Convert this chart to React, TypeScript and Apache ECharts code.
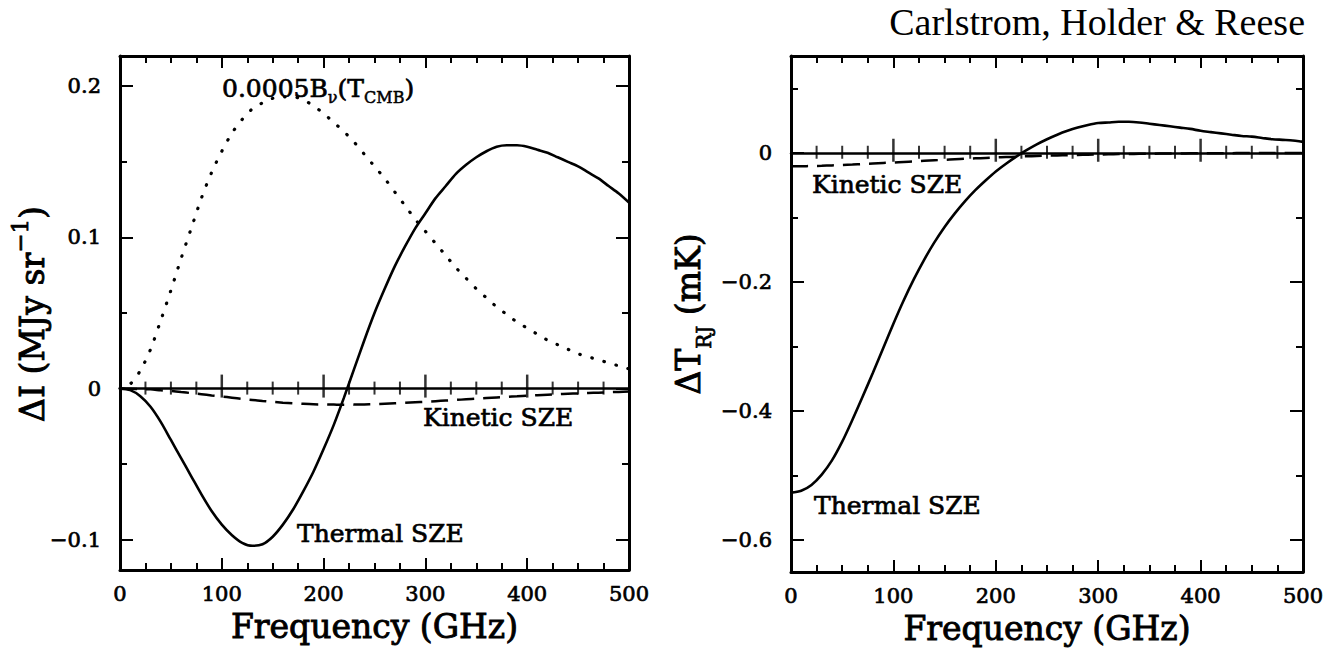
import React, { useEffect, useRef } from 'react';
import * as echarts from 'echarts';

// Frequency grid (GHz)
const freqGHz = [
  0, 10, 20, 30, 40, 50, 60, 70, 80, 90, 100, 110, 120, 130, 140, 150, 160, 170, 180, 190, 200,
  210, 220, 230, 240, 250, 260, 270, 280, 290, 300, 310, 320, 330, 340, 350, 360, 370, 380, 390, 400,
  410, 420, 430, 440, 450, 460, 470, 480, 490, 500,
];

// Left panel: ΔI (MJy sr^-1)
const thermalIntensity = [
  0, -0.001, -0.005, -0.012, -0.022, -0.034, -0.046, -0.058, -0.07, -0.081, -0.09, -0.097, -0.102, -0.104, -0.103, -0.098, -0.09, -0.08, -0.068, -0.055, -0.04,
  -0.024, -0.006, 0.013, 0.032, 0.05, 0.066, 0.081, 0.094, 0.106, 0.116, 0.126, 0.134, 0.142, 0.148, 0.153, 0.157, 0.16, 0.161, 0.161, 0.16,
  0.158, 0.156, 0.153, 0.15, 0.147, 0.143, 0.139, 0.134, 0.129, 0.123,
];
const kineticIntensity = [
  0, -0.0001, -0.0003, -0.0005, -0.0011, -0.0016, -0.0023, -0.003, -0.0037, -0.0045, -0.0052, -0.006, -0.0068, -0.0075, -0.0082, -0.0088, -0.0093, -0.0097, -0.0101, -0.0104, -0.0105,
  -0.0106, -0.0107, -0.0106, -0.0105, -0.0103, -0.01, -0.0097, -0.0094, -0.009, -0.0087, -0.0083, -0.0079, -0.0075, -0.0071, -0.0067, -0.0063, -0.0059, -0.0055, -0.0051, -0.0047,
  -0.0044, -0.004, -0.0037, -0.0034, -0.0032, -0.0029, -0.0027, -0.0024, -0.0022, -0.0019,
];
const planckScaled = [
  0, 0.003, 0.012, 0.026, 0.045, 0.065, 0.086, 0.106, 0.126, 0.143, 0.157, 0.169, 0.178, 0.185, 0.189, 0.192, 0.193, 0.193, 0.191, 0.187, 0.182,
  0.176, 0.17, 0.163, 0.155, 0.147, 0.139, 0.13, 0.121, 0.112, 0.104, 0.096, 0.088, 0.08, 0.073, 0.066, 0.06, 0.054, 0.049, 0.044, 0.04,
  0.036, 0.032, 0.029, 0.026, 0.023, 0.021, 0.019, 0.017, 0.015, 0.013,
];

// Right panel: ΔT_RJ (mK)
const thermalTemp = [
  -0.527, -0.524, -0.515, -0.499, -0.477, -0.448, -0.414, -0.378, -0.341, -0.303, -0.265, -0.229, -0.196, -0.166, -0.139, -0.115, -0.094, -0.075, -0.058, -0.043, -0.029,
  -0.017, -0.006, 0.004, 0.013, 0.021, 0.028, 0.034, 0.039, 0.043, 0.046, 0.047, 0.048, 0.048, 0.047, 0.045, 0.043, 0.041, 0.039, 0.037, 0.034,
  0.032, 0.03, 0.028, 0.026, 0.025, 0.023, 0.021, 0.02, 0.019, 0.017,
];
const kineticTemp = [
  -0.021, -0.0209, -0.0206, -0.0202, -0.0196, -0.019, -0.0183, -0.0175, -0.0167, -0.0159, -0.0151, -0.0142, -0.0134, -0.0125, -0.0117, -0.0109, -0.0101, -0.0094, -0.0087, -0.008, -0.0073,
  -0.0067, -0.0061, -0.0055, -0.005, -0.0045, -0.0041, -0.0037, -0.0033, -0.003, -0.0027, -0.0024, -0.0021, -0.0019, -0.0017, -0.0015, -0.0013, -0.0012, -0.0011, -0.0009, -0.0008,
  -0.0007, -0.0006, -0.0006, -0.0005, -0.0004, -0.0004, -0.0003, -0.0003, -0.0003, -0.0002,
];

// Tick marks drawn across the zero line
const zeroMajorTicks = [100, 200, 300, 400];
const zeroMinorTicks = [25, 50, 75, 125, 150, 175, 225, 250, 275, 325, 350, 375, 425, 450, 475];

const xTitle = 'Frequency (GHz)';
const leftYTitle = '{a|ΔI (MJy sr}{s|−1}{a|)}';
const rightYTitle = '{a|ΔT}{sub|RJ}{a| (mK)}';
const planckLabel = '{m|0.0005B}{s|ν}{m|(T}{s|CMB}{m|)}';
const authorLine = 'Carlstrom, Holder & Reese';

const SERIF = '"DejaVu Serif", serif';
const TIMES = '"Liberation Serif", "Times New Roman", serif';
const EMB = { textBorderColor: '#000', textBorderWidth: 0.7 };
const EMB_G = { stroke: '#000', lineWidth: 0.7 };

const fmt = (v: number) => {
  const r = parseFloat(v.toFixed(3));
  if (r === 0) return '0';
  return r < 0 ? '−' + String(Math.abs(r)) : String(r);
};

const pairs = (ys: number[]) => freqGHz.map((f, i) => [f, ys[i]]);
const onZero = (xs: number[]) => xs.map((f) => [f, 0]);

function makeAxes(gridIndex: number, yIndex: number, yMin: number, yMax: number, ySplit: number) {
  const black = { color: '#000' };
  const xBase = {
    gridIndex,
    type: 'value',
    min: 0,
    max: 500,
    splitNumber: 5,
    splitLine: { show: false },
  };
  const xAxes = [
    {
      ...xBase,
      position: 'bottom',
      axisLine: { onZero: false, lineStyle: { ...black, width: 3 } },
      axisTick: { inside: true, length: 12, lineStyle: { ...black, width: 2 } },
      minorTick: { show: true, splitNumber: 4, length: 7, lineStyle: { ...black, width: 2 } },
      axisLabel: { margin: 13, fontSize: 21, fontFamily: SERIF, color: '#000', ...EMB },
      name: xTitle,
      nameLocation: 'middle',
      nameGap: 35,
      nameTextStyle: { fontSize: 33, fontFamily: SERIF, color: '#000', ...EMB, textBorderWidth: 0.9 },
    },
    {
      ...xBase,
      position: 'top',
      axisLine: { onZero: false, lineStyle: { ...black, width: 3 } },
      axisTick: { inside: true, length: 12, lineStyle: { ...black, width: 2 } },
      minorTick: { show: true, splitNumber: 4, length: 7, lineStyle: { ...black, width: 2 } },
      axisLabel: { show: false },
    },
    {
      ...xBase,
      position: 'bottom',
      axisLine: { onZero: true, onZeroAxisIndex: yIndex, lineStyle: { ...black, width: 2.5 } },
      axisTick: { show: false },
      minorTick: { show: false },
      axisLabel: { show: false },
    },
  ];
  const yBase = {
    gridIndex,
    type: 'value',
    min: yMin,
    max: yMax,
    splitNumber: ySplit,
    splitLine: { show: false },
    axisLine: { onZero: false, lineStyle: { ...black, width: 3 } },
    axisTick: { inside: true, length: 13, lineStyle: { ...black, width: 2 } },
    minorTick: { show: true, splitNumber: 2, length: 7, lineStyle: { ...black, width: 2 } },
  };
  const yAxes = [
    {
      ...yBase,
      position: 'left',
      axisLabel: {
        margin: 19,
        fontSize: 21,
        fontFamily: SERIF,
        color: '#000',
        ...EMB,
        showMinLabel: false,
        showMaxLabel: false,
        formatter: (v: number) => fmt(v),
      },
    },
    { ...yBase, position: 'right', axisLabel: { show: false } },
  ];
  return { xAxes, yAxes };
}

const solid = { color: '#000', width: 2.6 };
const dashed = { color: '#000', width: 2.5, type: [17, 9] };
const dotted = { color: '#000', width: 3.2, type: [0.5, 12], cap: 'round' };

export default function App() {
  const ref = useRef<HTMLDivElement>(null);
  useEffect(() => {
    if (!ref.current) return;
    const chart = echarts.init(ref.current, undefined, { renderer: 'svg' });
    const L = makeAxes(0, 0, -0.12, 0.22, 4);
    const R = makeAxes(1, 2, -0.65, 0.15, 4);
    const lineSeries = (name: string, xi: number, yi: number, ys: number[], style: any) => ({
      name,
      type: 'line',
      xAxisIndex: xi,
      yAxisIndex: yi,
      data: pairs(ys),
      smooth: 0.3,
      showSymbol: false,
      symbol: 'none',
      lineStyle: style,
      z: 3,
    });
    const tickSeries = (xi: number, yi: number, xs: number[], size: number[], offset: number[]) => ({
      type: 'scatter',
      xAxisIndex: xi,
      yAxisIndex: yi,
      data: onZero(xs),
      symbol: 'rect',
      symbolSize: size,
      symbolOffset: offset,
      itemStyle: { color: '#000' },
      silent: true,
      z: 4,
    });
    const label = (text: string, x: number, y: number, size = 25) => ({
      type: 'text',
      x,
      y,
      style: { text, fontSize: size, fontFamily: SERIF, fill: '#000', ...EMB_G, align: 'left', verticalAlign: 'middle' },
      z: 10,
    });
    chart.setOption({
      animation: false,
      backgroundColor: '#fff',
      grid: [
        { left: 120, top: 56, width: 509, height: 514 },
        { left: 791, top: 56, width: 512, height: 516 },
      ],
      xAxis: [...L.xAxes, ...R.xAxes],
      yAxis: [...L.yAxes, ...R.yAxes],
      series: [
        lineSeries('Thermal SZE', 0, 0, thermalIntensity, solid),
        lineSeries('Kinetic SZE', 0, 0, kineticIntensity, dashed),
        lineSeries('0.0005Bν(TCMB)', 0, 0, planckScaled, dotted),
        tickSeries(0, 0, zeroMajorTicks, [2.5, 23], [0, -2.5]),
        tickSeries(0, 0, zeroMinorTicks, [2, 13], [0, -0.5]),
        lineSeries('Thermal SZE (RJ)', 3, 2, thermalTemp, solid),
        lineSeries('Kinetic SZE (RJ)', 3, 2, kineticTemp, dashed),
        tickSeries(3, 2, zeroMajorTicks, [2.5, 23], [0, -2.5]),
        tickSeries(3, 2, zeroMinorTicks, [2, 13], [0, -0.5]),
      ],
      graphic: [
        {
          type: 'text',
          x: 1305,
          y: 22,
          style: { text: authorLine, fontSize: 38, fontFamily: TIMES, fill: '#000', align: 'right', verticalAlign: 'middle' },
        },
        {
          type: 'text',
          x: 32,
          y: 314,
          rotation: Math.PI / 2,
          style: {
            text: leftYTitle,
            align: 'center',
            verticalAlign: 'middle',
            fill: '#000',
            fontFamily: SERIF,
            rich: {
              a: { fontSize: 33, fontFamily: SERIF, fill: '#000', stroke: '#000', lineWidth: 0.9, lineHeight: 48 },
              s: { fontSize: 23, fontFamily: SERIF, fill: '#000', stroke: '#000', lineWidth: 0.8, lineHeight: 22, verticalAlign: 'top' },
            },
          },
        },
        {
          type: 'text',
          x: 688,
          y: 314,
          rotation: Math.PI / 2,
          style: {
            text: rightYTitle,
            align: 'center',
            verticalAlign: 'middle',
            fill: '#000',
            fontFamily: SERIF,
            rich: {
              a: { fontSize: 33, fontFamily: SERIF, fill: '#000', stroke: '#000', lineWidth: 0.9, lineHeight: 52 },
              sub: { fontSize: 20, fontFamily: SERIF, fill: '#000', stroke: '#000', lineWidth: 0.7, lineHeight: 20, verticalAlign: 'bottom' },
            },
          },
        },
        {
          type: 'text',
          x: 222,
          y: 88,
          style: {
            text: planckLabel,
            align: 'left',
            verticalAlign: 'middle',
            fill: '#000',
            fontFamily: SERIF,
            rich: {
              m: { fontSize: 25, fontFamily: SERIF, fill: '#000', stroke: '#000', lineWidth: 0.7, lineHeight: 34 },
              s: { fontSize: 16, fontFamily: SERIF, fill: '#000', stroke: '#000', lineWidth: 0.5, lineHeight: 16, verticalAlign: 'bottom' },
            },
          },
        },
        label('Kinetic SZE', 423, 417),
        label('Thermal SZE', 297, 533),
        label('Kinetic SZE', 812, 184),
        label('Thermal SZE', 814, 505),
      ],
    });
    return () => chart.dispose();
  }, []);
  return <div ref={ref} style={{ position: 'fixed', left: 0, top: 0, width: 1328, height: 654, background: '#fff' }} />;
}
